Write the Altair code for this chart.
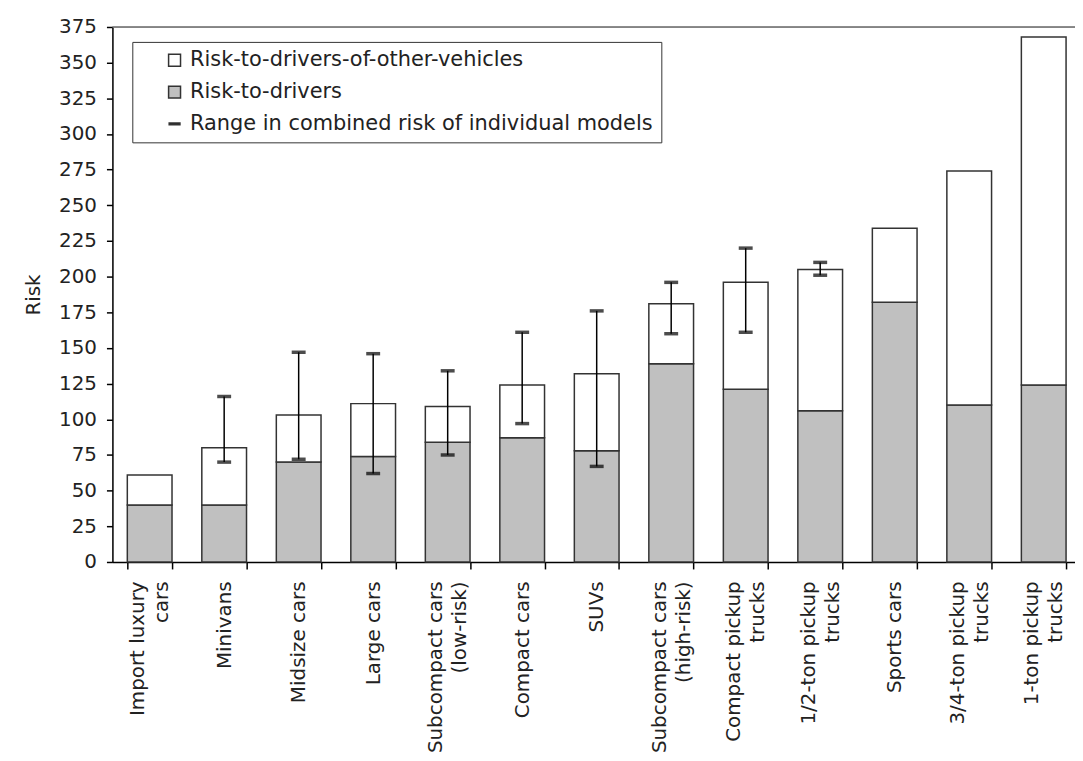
import altair as alt
import pandas as pd

categories = [
    "Import luxury\ncars", "Minivans", "Midsize cars", "Large cars",
    "Subcompact cars\n(low-risk)", "Compact cars", "SUVs",
    "Subcompact cars\n(high-risk)", "Compact pickup\ntrucks",
    "1/2-ton pickup\ntrucks", "Sports cars", "3/4-ton pickup\ntrucks",
    "1-ton pickup\ntrucks",
]
risk_drivers = [40, 40, 70, 74, 84, 87, 78, 139, 121, 106, 182, 110, 124]
combined_risk = [61, 80, 103, 111, 109, 124, 132, 181, 196, 205, 234, 274, 368]
range_low = [None, 70, 72, 62, 75, 97, 67, 160, 161, 201, None, None, None]
range_high = [None, 116, 147, 146, 134, 161, 176, 196, 220, 210, None, None, None]
y_ticks = list(range(0, 376, 25))

S_OTHER = "Risk-to-drivers-of-other-vehicles"
S_DRIVER = "Risk-to-drivers"
S_RANGE = "Range in combined risk of individual models"
series_names = [S_OTHER, S_DRIVER, S_RANGE]

rows = []
for c, d, t in zip(categories, risk_drivers, combined_risk):
    rows.append({"cat": c, "series": S_DRIVER, "lo": 0, "hi": d})
    rows.append({"cat": c, "series": S_OTHER, "lo": d, "hi": t})
bars_df = pd.DataFrame(rows)

err_df = pd.DataFrame({"cat": categories, "low": range_low, "high": range_high}).dropna()
legend_df = pd.DataFrame({"series": series_names})

FONT = "DejaVu Sans"

x_axis = alt.Axis(
    labelAngle=270, labelAlign="right", labelBaseline="middle",
    labelExpr="split(datum.label, '\\n')", labelLineHeight=24,
    labelOffset={"condition": {"test": "indexof(datum.label, '\\n') >= 0", "value": -12},
                 "value": 0},
    labelFontSize=20, labelFont=FONT, labelColor="#222", labelPadding=12,
    labelOverlap=False, labelBound=False,
    tickBand="extent", tickSize=7, tickColor="#000", tickWidth=1.5,
    domainColor="#000", domainWidth=1.5,
)
x_scale = alt.Scale(paddingInner=0.4, paddingOuter=0.2)
y_scale = alt.Scale(domain=[0, 375], nice=False)
y_axis = alt.Axis(
    values=y_ticks, labelFontSize=20, labelFont=FONT,
    labelColor="#222", tickSize=6, tickColor="#000", tickWidth=1.5,
    domainColor="#000", domainWidth=1.5, grid=False, labelPadding=10,
    labelOverlap=False,
    title="Risk", titleFont=FONT, titleFontSize=20, titleFontWeight="normal",
    titleColor="#222", titlePadding=15,
)


def xe():
    return alt.X("cat:N", sort=categories, title=None, scale=x_scale, axis=x_axis)


def ye(field):
    return alt.Y(field, scale=y_scale, axis=y_axis)


fill_scale = alt.Scale(domain=series_names, range=["#ffffff", "#c0c0c0", "#000000"])
shape_scale = alt.Scale(domain=series_names,
                        range=["square", "square", "M-0.9,-0.14H0.9V0.14H-0.9Z"])
legend_def = alt.Legend(
    title=None, orient="none", legendX=20, legendY=15,
    labelFont=FONT, labelFontSize=21, labelColor="#222", labelLimit=800,
    labelOffset=5, symbolOffset=24,
    symbolSize=144, symbolStrokeColor="#333", symbolStrokeWidth=1.5,
    symbolFillColor="#ffffff", symbolOpacity=1,
    rowPadding=10, padding=8, strokeColor="#333", fillColor="#ffffff",
)

bars = alt.Chart(bars_df).mark_bar(stroke="#333", strokeWidth=1.5).encode(
    x=xe(), y=ye("lo:Q"), y2="hi:Q",
    fill=alt.Fill("series:N", scale=fill_scale, legend=legend_def),
)

legend_layer = alt.Chart(legend_df).mark_point(
    filled=True, opacity=0, stroke="#333", strokeWidth=1.5, size=144
).encode(
    fill=alt.Fill("series:N", scale=fill_scale, legend=legend_def),
    shape=alt.Shape("series:N", scale=shape_scale, legend=legend_def),
)

err_rule = alt.Chart(err_df).mark_rule(color="#000", strokeWidth=1.5).encode(
    x=xe(), y=ye("low:Q"), y2="high:Q"
)
cap_low = alt.Chart(err_df).mark_tick(color="#000", thickness=3.5, size=14).encode(
    x=xe(), y=ye("low:Q")
)
cap_high = alt.Chart(err_df).mark_tick(color="#000", thickness=3.5, size=14).encode(
    x=xe(), y=ye("high:Q")
)

top_df = pd.DataFrame({"v": [375]})
top_line = alt.Chart(top_df).mark_rule(color="#666", strokeWidth=1.5).encode(y=ye("v:Q"))

chart = alt.layer(bars, err_rule, cap_low, cap_high, top_line, legend_layer).properties(
    width=974, height=538,
    autosize=alt.AutoSizeParams(type="none"),
    padding={"left": 105, "top": 17, "right": -6, "bottom": 190},
).configure_view(stroke=None).configure_axisY(labelOverlap=False).configure(
    background="#ffffff"
)

chart.save("out.html", embed_options={"renderer": "svg", "actions": False})
